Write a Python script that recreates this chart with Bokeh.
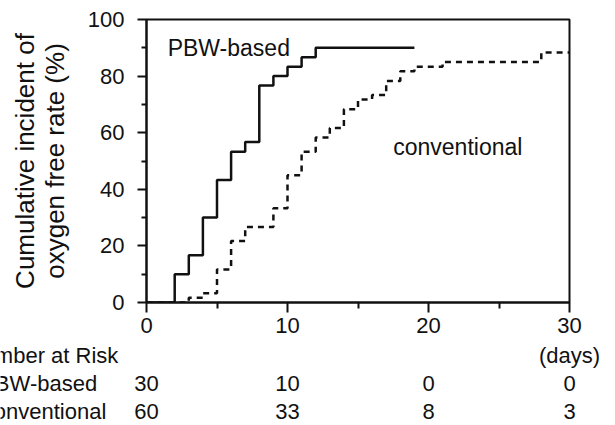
from bokeh.plotting import figure
from bokeh.layouts import column
from bokeh.models import Range1d, FixedTicker, Label, ColumnDataSource
from bokeh.core.properties import value
from bokeh.embed import file_html
from bokeh.resources import INLINE

# ---- data ----
pbw_days = [0, 2, 3, 4, 5, 6, 7, 8, 9, 10, 11, 12, 19]
pbw_rate = [0, 10, 16.7, 30, 43.3, 53.3, 56.7, 76.7, 80, 83.3, 86.7, 90, 90]
conv_days = [0, 3, 4, 5, 6, 7, 9, 10, 11, 12, 13, 14, 15, 16, 17, 18, 19, 21, 28, 30]
conv_rate = [0, 1.7, 3.3, 11.7, 21.7, 26.7, 33.3, 45, 53.3, 58.3, 61.7, 68.3,
             71.7, 73.3, 78.3, 81.7, 83.3, 85, 88.3, 88.3]
risk_days = [0, 10, 20, 30]
risk_pbw = [30, 10, 0, 0]
risk_conv = [60, 33, 8, 3]
x_major = [0, 10, 20, 30]
x_minor = [5, 15, 25]
y_major = [0, 20, 40, 60, 80, 100]
y_minor = [10, 30, 50, 70, 90]

FONT = "Liberation Sans"
INK = "#111111"
W = 615
LEFT, RIGHT = 146, 46          # frame borders of the chart
PX_PER_DAY = (W - LEFT - RIGHT) / 30.0

# ---------------- main chart ----------------
p = figure(width=W, height=342, output_backend="svg", toolbar_location=None,
           x_range=Range1d(0, 30), y_range=Range1d(0, 100),
           min_border_left=LEFT, min_border_right=RIGHT, min_border_top=19,
           min_border_bottom=40)
p.frame_align = False
p.xgrid.visible = False
p.ygrid.visible = False
p.outline_line_color = INK
p.outline_line_width = 2
p.background_fill_color = "white"
p.border_fill_color = "white"

for ax in (p.xaxis[0], p.yaxis[0]):
    ax.axis_line_color = INK
    ax.axis_line_width = 2
    ax.major_tick_line_color = INK
    ax.major_tick_line_width = 2
    ax.minor_tick_line_color = INK
    ax.minor_tick_line_width = 2
    ax.major_tick_in = 0
    ax.minor_tick_in = 0
    ax.major_label_text_font = FONT
    ax.major_label_text_font_size = "22px"
    ax.major_label_text_color = INK

p.xaxis.ticker = FixedTicker(ticks=x_major, minor_ticks=x_minor)
p.yaxis.ticker = FixedTicker(ticks=y_major, minor_ticks=y_minor)
p.xaxis.major_tick_out = 10
p.xaxis.minor_tick_out = 6
p.yaxis.major_tick_out = 9
p.yaxis.minor_tick_out = 5
p.xaxis.major_label_standoff = 5
p.yaxis.major_label_standoff = 13

p.yaxis.axis_label = "Cumulative incident of\noxygen free rate (%)"
p.yaxis.axis_label_text_font = FONT
p.yaxis.axis_label_text_font_size = "26px"
p.yaxis.axis_label_text_font_style = "normal"
p.yaxis.axis_label_text_color = INK
p.yaxis.axis_label_text_line_height = 1.0
p.yaxis.axis_label_standoff = 15

p.step(pbw_days, pbw_rate, mode="after", line_color=INK, line_width=2.5)
p.step(conv_days, conv_rate, mode="after", line_color=INK, line_width=2.5,
       line_dash="6 5")

def lab(fig, x, y, text, align="left", baseline="middle", size="22px"):
    fig.add_layout(Label(x=x, y=y, text=text, text_font=FONT, text_font_size=size,
                         text_color=INK, text_align=align, text_baseline=baseline))

lab(p, 1.5, 90, "PBW-based", baseline="alphabetic", size="23px")
lab(p, 17.5, 55, "conventional", baseline="alphabetic", size="23px")

# ---------------- number at risk table ----------------
H2 = 83
ROW_PX = 28
top_val = 2 + 12.5 / ROW_PX
t = figure(width=W, height=H2, output_backend="svg", toolbar_location=None,
           x_range=Range1d(-LEFT / PX_PER_DAY, (W - LEFT) / PX_PER_DAY),
           y_range=Range1d(top_val - H2 / ROW_PX, top_val),
           x_axis_type=None, y_axis_type=None, min_border=0)
t.frame_align = False
t.xgrid.visible = False
t.ygrid.visible = False
t.outline_line_color = None
t.background_fill_color = "white"
t.border_fill_color = "white"

row_y = {"head": 2, "pbw": 1, "conv": 0}
lab(t, -2.0, row_y["head"], "Number at Risk", align="right")
lab(t, -3.5, row_y["pbw"], "PBW-based", align="right")
lab(t, -2.85, row_y["conv"], "Conventional", align="right")

src = ColumnDataSource(dict(
    x=risk_days + risk_days + [30],
    y=[row_y["pbw"]] * 4 + [row_y["conv"]] * 4 + [row_y["head"]],
    txt=[str(v) for v in risk_pbw] + [str(v) for v in risk_conv] + ["(days)"],
))
t.text(x="x", y="y", text="txt", source=src, text_font=value(FONT),
       text_font_size="22px", text_color=INK, text_align="center",
       text_baseline="middle")

layout = column(p, t, spacing=0)
open("out.html", "w").write(file_html(layout, INLINE))
